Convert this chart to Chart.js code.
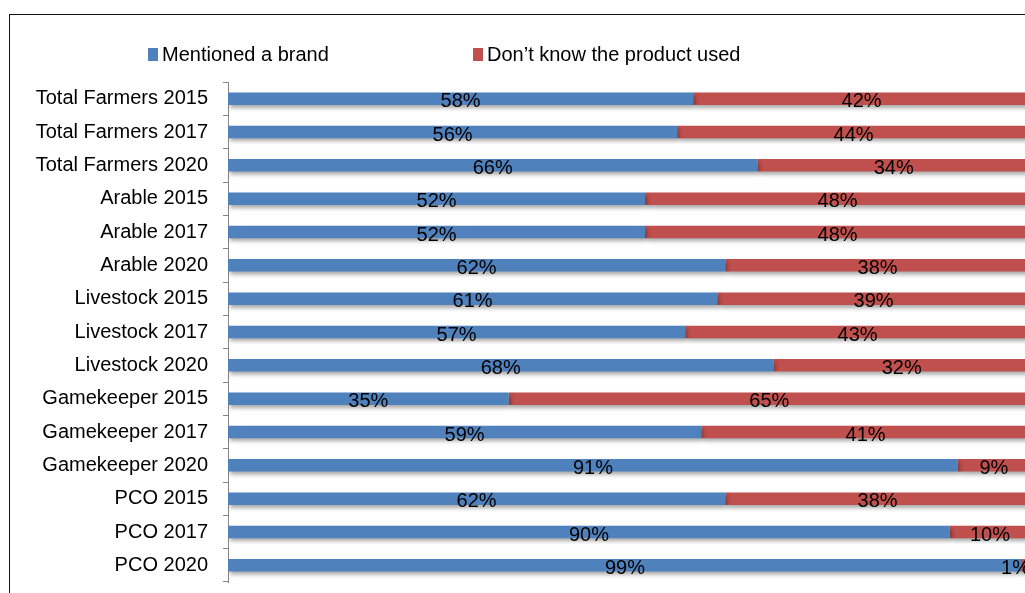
<!DOCTYPE html>
<html>
<head>
<meta charset="utf-8">
<script src="https://cdn.jsdelivr.net/npm/chart.js@4/dist/chart.umd.min.js"></script>
<style>
  html, body { margin: 0; padding: 0; background: #fff; overflow: hidden; }
  #frame { position: absolute; left: 9px; top: 14px; width: 1200px; height: 700px;
           border-left: 1px solid #111; border-top: 1px solid #111; }
  #chart { position: absolute; left: 0; top: 0; }
</style>
</head>
<body>
<div id="frame"></div>
<canvas id="chart" width="1100" height="609"></canvas>
<script>
const categories = [
  'Total Farmers 2015', 'Total Farmers 2017', 'Total Farmers 2020',
  'Arable 2015', 'Arable 2017', 'Arable 2020',
  'Livestock 2015', 'Livestock 2017', 'Livestock 2020',
  'Gamekeeper 2015', 'Gamekeeper 2017', 'Gamekeeper 2020',
  'PCO 2015', 'PCO 2017', 'PCO 2020'
];
const mentioned = [58, 56, 66, 52, 52, 62, 61, 57, 68, 35, 59, 91, 62, 90, 99];
const dontKnow  = [42, 44, 34, 48, 48, 38, 39, 43, 32, 65, 41, 9, 38, 10, 1];
const seriesNames = ['Mentioned a brand', 'Don\u2019t know the product used'];
const seriesColors = ['#4F81BD', '#C0504D'];

const FAMILY = '"Liberation Sans", Arial, sans-serif';
const FONT = '20px ' + FAMILY;

// soft drop shadow under each bar series
const barShadow = {
  id: 'barShadow',
  beforeDatasetDraw(chart) {
    const ctx = chart.ctx;
    ctx.save();
    ctx.shadowColor = 'rgba(0,0,0,0.35)';
    ctx.shadowBlur = 4;
    ctx.shadowOffsetX = 2;
    ctx.shadowOffsetY = 3;
  },
  afterDatasetDraw(chart) {
    chart.ctx.restore();
  }
};

// percentage text centred on each segment
const segmentLabels = {
  id: 'segmentLabels',
  afterDatasetsDraw(chart) {
    const ctx = chart.ctx;
    const right = chart.chartArea.right;
    ctx.save();
    ctx.font = FONT;
    ctx.fillStyle = '#000';
    ctx.textAlign = 'center';
    ctx.textBaseline = 'middle';
    chart.data.datasets.forEach((ds, i) => {
      chart.getDatasetMeta(i).data.forEach((bar, j) => {
        const txt = ds.data[j] + '%';
        const w = ctx.measureText(txt).width;
        let x = (bar.x + bar.base) / 2;
        x = Math.min(x, right - w / 2);
        ctx.fillText(txt, x, bar.y + 3);
      });
    });
    ctx.restore();
  }
};

// legend row above the plot
const topLegend = {
  id: 'topLegend',
  afterDraw(chart) {
    const ctx = chart.ctx;
    const xs = [148, 473];
    ctx.save();
    ctx.font = FONT;
    ctx.textBaseline = 'alphabetic';
    chart.data.datasets.forEach((ds, i) => {
      ctx.fillStyle = ds.backgroundColor;
      ctx.fillRect(xs[i], 48, 10, 13);
      ctx.fillStyle = '#000';
      ctx.fillText(ds.label, xs[i] + 14, 61);
    });
    ctx.restore();
  }
};

new Chart(document.getElementById('chart'), {
  type: 'bar',
  data: {
    labels: categories,
    datasets: [
      { label: seriesNames[0], data: mentioned, backgroundColor: seriesColors[0],
        barPercentage: 0.375, categoryPercentage: 1, borderWidth: 0 },
      { label: seriesNames[1], data: dontKnow, backgroundColor: seriesColors[1],
        barPercentage: 0.375, categoryPercentage: 1, borderWidth: 0 }
    ]
  },
  options: {
    indexAxis: 'y',
    responsive: false,
    animation: false,
    layout: { padding: { top: 82, bottom: 10, left: 0, right: 70 } },
    plugins: { legend: { display: false }, tooltip: { enabled: false } },
    scales: {
      x: { stacked: true, min: 0, max: 100, display: false },
      y: {
        stacked: true,
        afterFit(scale) { scale.width = 228; },
        grid: { drawOnChartArea: false, drawTicks: true, tickLength: 5, color: '#868686', offset: true },
        border: { color: '#868686' },
        ticks: { color: '#000', font: { family: FAMILY, size: 20 }, padding: 15, autoSkip: false }
      }
    }
  },
  plugins: [barShadow, segmentLabels, topLegend]
});
</script>
</body>
</html>
